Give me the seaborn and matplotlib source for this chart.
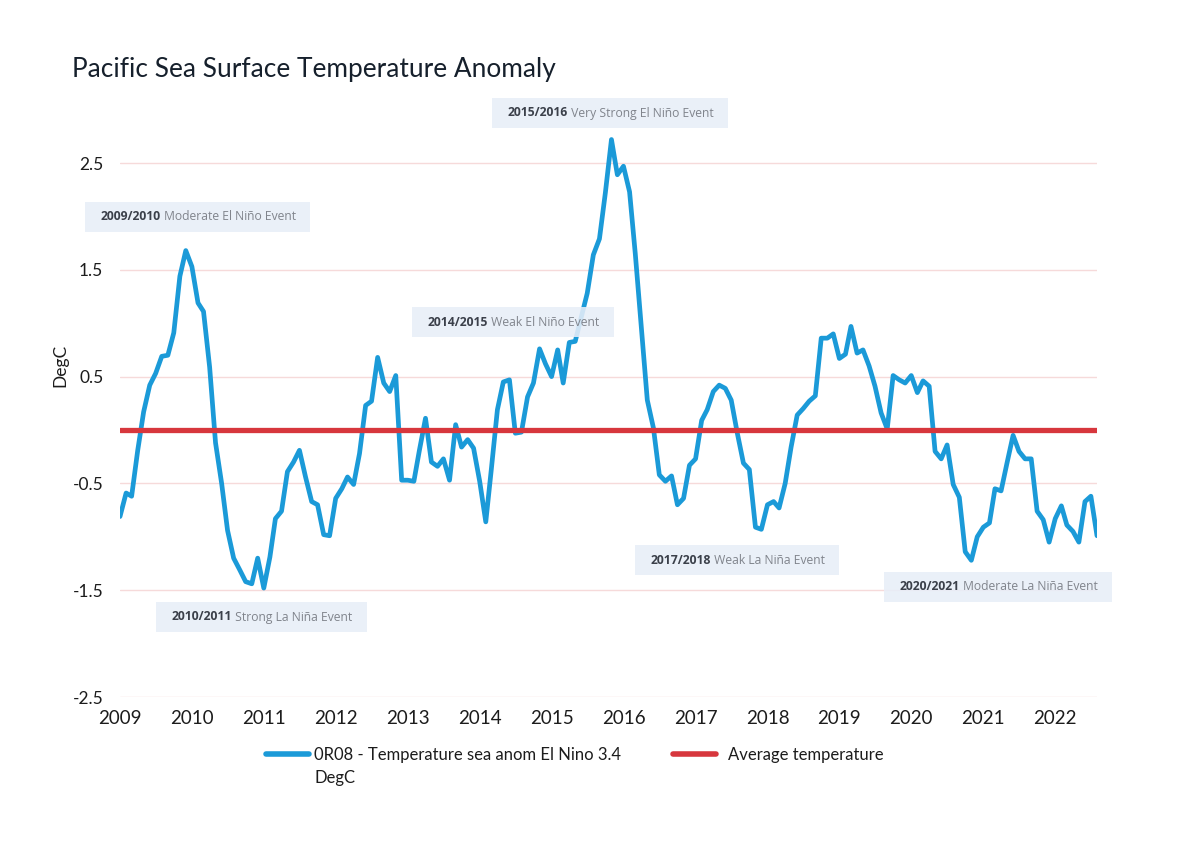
import numpy as np
import pandas as pd
import matplotlib
matplotlib.use("Agg")
import matplotlib.pyplot as plt
import matplotlib.dates as mdates
from matplotlib.patches import Rectangle
import seaborn as sns

# monthly Nino 3.4 anomaly, Jan 2009 - Aug 2022
months = pd.date_range("2009-01-01", "2022-08-01", freq="MS")
sst_anom = [
    -0.81, -0.59, -0.62, -0.19, 0.17, 0.42, 0.53, 0.69, 0.70, 0.91, 1.44, 1.68,
    1.53, 1.19, 1.11, 0.59, -0.12, -0.50, -0.94, -1.20, -1.31, -1.42, -1.44, -1.20,
    -1.48, -1.19, -0.83, -0.76, -0.39, -0.30, -0.19, -0.44, -0.67, -0.70, -0.98, -0.99,
    -0.64, -0.55, -0.44, -0.51, -0.22, 0.23, 0.27, 0.68, 0.44, 0.36, 0.51, -0.47,
    -0.47, -0.48, -0.19, 0.11, -0.30, -0.34, -0.27, -0.47, 0.05, -0.16, -0.09, -0.17,
    -0.48, -0.86, -0.37, 0.19, 0.45, 0.47, -0.03, -0.02, 0.31, 0.44, 0.76, 0.62,
    0.50, 0.75, 0.44, 0.82, 0.83, 1.06, 1.28, 1.64, 1.79, 2.22, 2.72, 2.39,
    2.47, 2.23, 1.65, 0.95, 0.28, 0.02, -0.42, -0.48, -0.43, -0.70, -0.64, -0.33,
    -0.27, 0.09, 0.19, 0.36, 0.42, 0.39, 0.28, -0.03, -0.31, -0.37, -0.91, -0.93,
    -0.70, -0.67, -0.73, -0.50, -0.16, 0.14, 0.20, 0.27, 0.32, 0.86, 0.86, 0.90,
    0.67, 0.71, 0.97, 0.72, 0.75, 0.60, 0.41, 0.16, 0.01, 0.51, 0.47, 0.44,
    0.51, 0.35, 0.46, 0.41, -0.20, -0.27, -0.14, -0.51, -0.63, -1.14, -1.22, -1.00,
    -0.91, -0.87, -0.55, -0.57, -0.31, -0.05, -0.20, -0.27, -0.27, -0.76, -0.84, -1.05,
    -0.83, -0.71, -0.89, -0.95, -1.05, -0.67, -0.62, -0.99,
]
avg_temp = [0.0] * len(months)

y_ticks = [2.5, 1.5, 0.5, -0.5, -1.5, -2.5]
y_tick_labels = ["2.5", "1.5", "0.5", "-0.5", "-1.5", "-2.5"]

sst_label = "0R08 - Temperature sea anom El Nino 3.4"
sst_label_2 = "DegC"
avg_label = "Average temperature"

event_years = ["2009/2010", "2015/2016", "2014/2015", "2010/2011", "2017/2018", "2020/2021"]
event_names = ["Moderate El Niño Event", "Very Strong El Niño Event", "Weak El Niño Event",
               "Strong La Niña Event", "Weak La Niña Event", "Moderate La Niña Event"]
# left edge / vertical centre of each label, figure pixels from top-left
event_pos = [(101, 217), (508, 113), (428, 322), (172, 617), (651, 560), (900, 587)]

blue = "#1b9ad8"
red = "#d7373d"
W, H = 1181, 844

sns.set_theme(style="white")
plt.rcParams["font.family"] = ["Lato", "DejaVu Sans"]

df = pd.DataFrame({"month": months, "sst": sst_anom, "avg": avg_temp})

fig = plt.figure(figsize=(W / 100, H / 100), dpi=100)
ax = fig.add_axes([120 / W, 1 - 697 / H, (1097 - 120) / W, (697 - 120.3) / H])

sns.lineplot(data=df, x="month", y="sst", ax=ax, color=blue, lw=3.4, label=sst_label, legend=False)
sns.lineplot(data=df, x="month", y="avg", ax=ax, color=red, lw=3.8, label=avg_label, legend=False)

ax.set_xlim(months[0], months[-1])
ax.set_ylim(-2.5, 2.9)
ax.set_yticks(y_ticks)
ax.set_yticklabels(y_tick_labels)
ax.xaxis.set_major_locator(mdates.YearLocator())
ax.xaxis.set_major_formatter(mdates.DateFormatter("%Y"))
ax.set_xlabel("")
ax.set_ylabel("")
ax.tick_params(axis="both", length=0, labelcolor="#1c1c1c")
ax.tick_params(axis="y", pad=12, labelsize=12.5)
ax.tick_params(axis="x", pad=9, labelsize=13.5)
ax.grid(axis="y", color="#f6dada", lw=1)
ax.grid(axis="x", visible=False)
for s in ax.spines.values():
    s.set_visible(False)

fig.text(72 / W, 1 - 70 / H, "Pacific Sea Surface Temperature Anomaly",
         fontsize=18.9, color="#16202c", va="center", ha="left")
fig.text(60 / W, 1 - 365 / H, "DegC", rotation=90, fontsize=12.5,
         color="#1c1c1c", va="center", ha="center")

# legend: one small legend per series so each sits where the reference has it
handles, labels = ax.get_legend_handles_labels()
leg_opts = dict(loc="center left", frameon=False, fontsize=12, handlelength=2.6,
                borderpad=0, borderaxespad=0, labelcolor="#1c1c1c")
leg1 = fig.legend([handles[0]], [labels[0]], bbox_to_anchor=(266 / W, 1 - 755 / H),
                  handletextpad=0.3, **leg_opts)
leg2 = fig.legend([handles[1]], [labels[1]], bbox_to_anchor=(673 / W, 1 - 755 / H),
                  handletextpad=0.7, **leg_opts)
for lh in leg1.get_lines() + leg2.get_lines():
    lh.set_linewidth(4)
fig.canvas.draw()
leg1_txt = leg1.get_texts()[0]
fig.add_artist(plt.Annotation(sst_label_2, xy=(0, 0), xycoords=leg1_txt, xytext=(0, -5),
                              textcoords="offset points", va="top", ha="left",
                              fontsize=12, color="#1c1c1c"))

# event labels: bold years + light description on a pale box
rend = fig.canvas.get_renderer()
for yr, name, (px, py) in zip(event_years, event_names, event_pos):
    t1 = fig.text(px / W, 1 - py / H, yr, fontsize=8.7, fontweight="bold",
                  family=["Open Sans", "DejaVu Sans"], color="#3b404a",
                  va="center", ha="left", zorder=5)
    t2 = fig.text(0, 0, " " + name, fontsize=8.7, family=["Open Sans", "DejaVu Sans"],
                  color="#80848c", va="center", ha="left", zorder=5)
    b1 = t1.get_window_extent(rend)
    t2.set_position((b1.x1 / W, 1 - py / H))
    b2 = t2.get_window_extent(rend)
    x0 = b1.x0 - 16
    x1 = b2.x1 + 14
    fig.patches.append(Rectangle((x0 / W, (H - py - 15) / H), (x1 - x0) / W, 30 / H,
                                 transform=fig.transFigure, facecolor="#e8eef8",
                                 edgecolor="none", alpha=0.88, zorder=4))

fig.savefig("out.png", dpi=100)
